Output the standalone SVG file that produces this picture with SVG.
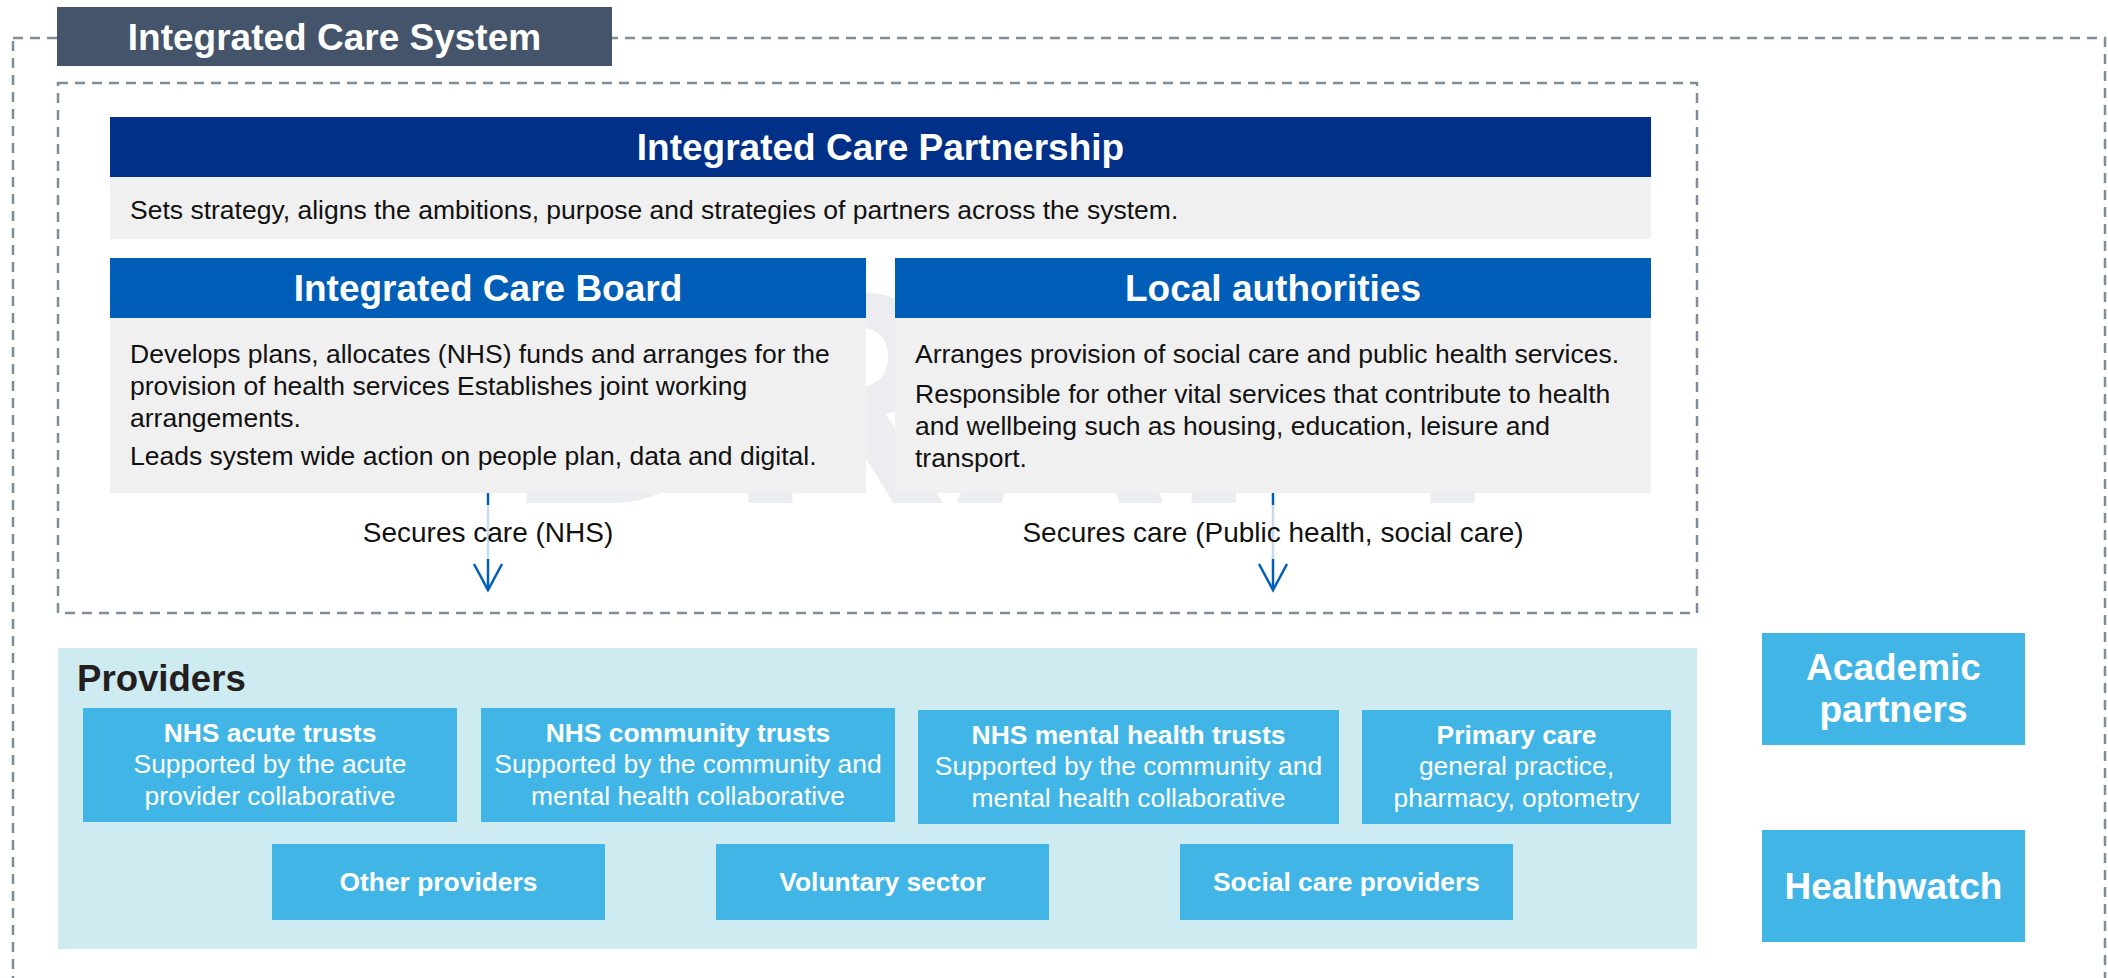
<svg xmlns="http://www.w3.org/2000/svg" width="2108" height="978" viewBox="0 0 2108 978">
<defs>
<style>
.dash{fill:none;stroke:#7F8C99;stroke-width:2.5;stroke-dasharray:10 7}
.t{font-family:"Liberation Sans",Arial,sans-serif}
.hd{font-family:"Liberation Sans",Arial,sans-serif;font-weight:bold;font-size:37px;fill:#FFFFFF;text-anchor:middle}
.body{font-family:"Liberation Sans",Arial,sans-serif;font-size:26.5px;fill:#111111}
.pb{font-family:"Liberation Sans",Arial,sans-serif;font-size:26.4px;fill:#FFFFFF;text-anchor:middle}
.pb .b{font-weight:bold}
.grey{fill:#F0F0F0}
.nhsblue{fill:#005EB8}
.prov{fill:#41B6E6}
.conn{stroke:#005EB8;stroke-width:2.5;fill:none}
.lblbg{fill:#FFFFFF;fill-opacity:0.78}
.lbl{font-family:"Liberation Sans",Arial,sans-serif;font-size:28px;fill:#111111;text-anchor:middle}
</style>
<marker id="arr" markerUnits="userSpaceOnUse" markerWidth="34" markerHeight="34" viewBox="-30 -17 34 34" refX="0" refY="0" orient="auto">
<path d="M-26,-14 L0,0 L-26,14" fill="none" stroke="#005EB8" stroke-width="2.5"/>
</marker>
</defs>
<rect width="2108" height="978" fill="#FFFFFF"/>
<text x="506" y="503" class="t" font-size="307" font-weight="bold" fill="#ECEDF0">DRAFT</text>

<g id="ics">
<rect class="dash" x="13" y="38" width="2092" height="1000"/>
<rect x="57" y="7" width="555" height="59" fill="#44546A"/>
<text x="334.5" y="50" class="hd">Integrated Care System</text>
</g>

<g id="commissioning-area">
<rect class="dash" x="58" y="83" width="1639" height="530"/>
</g>

<g id="icp">
<rect x="110" y="117" width="1541" height="60" fill="#003087"/>
<text x="880.5" y="160" class="hd">Integrated Care Partnership</text>
<rect class="grey" x="110" y="177" width="1541" height="62"/>
<text x="130" y="219" class="body">Sets strategy, aligns the ambitions, purpose and strategies of partners across the system.</text>
</g>

<g id="icb">
<rect class="nhsblue" x="110" y="258" width="756" height="60"/>
<text x="488" y="301" class="hd">Integrated Care Board</text>
<rect class="grey" x="110" y="318" width="756" height="175"/>
<text class="body">
<tspan x="130" y="363">Develops plans, allocates (NHS) funds and arranges for the</tspan>
<tspan x="130" y="395">provision of health services Establishes joint working</tspan>
<tspan x="130" y="427">arrangements.</tspan>
<tspan x="130" y="465">Leads system wide action on people plan, data and digital.</tspan>
</text>
</g>

<g id="local-authorities">
<rect class="nhsblue" x="895" y="258" width="756" height="60"/>
<text x="1273" y="301" class="hd">Local authorities</text>
<rect class="grey" x="895" y="318" width="756" height="175"/>
<text class="body">
<tspan x="915" y="363">Arranges provision of social care and public health services.</tspan>
<tspan x="915" y="403">Responsible for other vital services that contribute to health</tspan>
<tspan x="915" y="435">and wellbeing such as housing, education, leisure and</tspan>
<tspan x="915" y="467">transport.</tspan>
</text>
</g>

<g id="connectors">
<line class="conn" x1="488" y1="493" x2="488" y2="590" marker-end="url(#arr)"/>
<rect class="lblbg" x="355" y="505" width="266" height="54"/>
<text x="488" y="542" class="lbl">Secures care (NHS)</text>
<line class="conn" x1="1273" y1="493" x2="1273" y2="590" marker-end="url(#arr)"/>
<rect class="lblbg" x="1012" y="505" width="522" height="54"/>
<text x="1273" y="542" class="lbl">Secures care (Public health, social care)</text>
</g>

<g id="providers">
<rect x="58" y="648" width="1639" height="301" fill="#CDEBF0"/>
<text x="77" y="691" class="t" font-size="36.6" font-weight="bold" fill="#231F20">Providers</text>
</g>

<g id="nhs-acute-trusts">
<rect class="prov" x="83" y="708" width="374" height="114"/>
<text class="pb"><tspan class="b" x="270" y="742">NHS acute trusts</tspan><tspan x="270" y="773">Supported by the acute</tspan><tspan x="270" y="805">provider collaborative</tspan></text>
</g>
<g id="nhs-community-trusts">
<rect class="prov" x="481" y="708" width="414" height="114"/>
<text class="pb"><tspan class="b" x="688" y="742">NHS community trusts</tspan><tspan x="688" y="773">Supported by the community and</tspan><tspan x="688" y="805">mental health collaborative</tspan></text>
</g>
<g id="nhs-mental-health-trusts">
<rect class="prov" x="918" y="710" width="421" height="114"/>
<text class="pb"><tspan class="b" x="1128.5" y="744">NHS mental health trusts</tspan><tspan x="1128.5" y="775">Supported by the community and</tspan><tspan x="1128.5" y="807">mental health collaborative</tspan></text>
</g>
<g id="primary-care">
<rect class="prov" x="1362" y="710" width="309" height="114"/>
<text class="pb"><tspan class="b" x="1516.5" y="744">Primary care</tspan><tspan x="1516.5" y="775">general practice,</tspan><tspan x="1516.5" y="807">pharmacy, optometry</tspan></text>
</g>
<g id="other-providers">
<rect class="prov" x="272" y="844" width="333" height="76"/>
<text class="pb" font-weight="bold" x="438.5" y="891">Other providers</text>
</g>
<g id="voluntary-sector">
<rect class="prov" x="716" y="844" width="333" height="76"/>
<text class="pb" font-weight="bold" x="882.5" y="891">Voluntary sector</text>
</g>
<g id="social-care-providers">
<rect class="prov" x="1180" y="844" width="333" height="76"/>
<text class="pb" font-weight="bold" x="1346.5" y="891">Social care providers</text>
</g>

<g id="academic-partners">
<rect class="prov" x="1762" y="633" width="263" height="112"/>
<text class="hd"><tspan x="1893.5" y="680">Academic</tspan><tspan x="1893.5" y="722">partners</tspan></text>
</g>
<g id="healthwatch">
<rect class="prov" x="1762" y="830" width="263" height="112"/>
<text class="hd" x="1893.5" y="899">Healthwatch</text>
</g>
</svg>
